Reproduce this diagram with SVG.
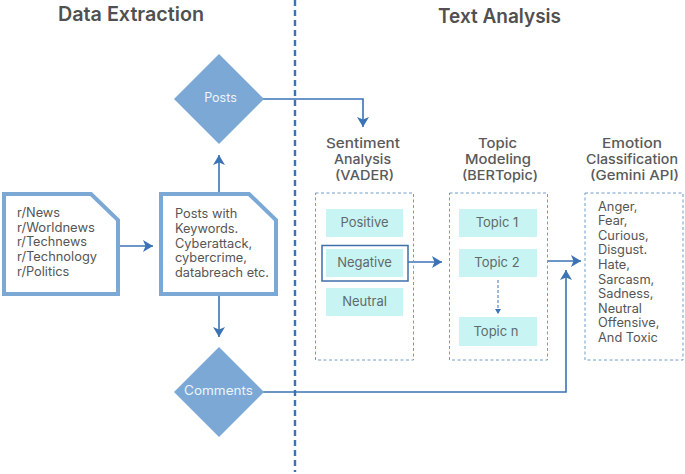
<svg xmlns="http://www.w3.org/2000/svg" width="685" height="474" viewBox="0 0 685 474">
<style>
text{font-family:"Inter","Liberation Sans",sans-serif;fill:#555}
.h{font-size:19.500px;font-weight:600;text-anchor:middle;fill:#505050}
.s{font-size:13.200px;font-weight:500;text-anchor:middle;fill:#5a5a5a}
.t{font-size:12.800px}
.m{font-size:13px;text-anchor:middle;fill:#5f6a6a}
.w{font-size:12.500px;text-anchor:middle;fill:#eef4fa}
.doc{fill:#fff;stroke:#7ba8d4;stroke-width:4}
.dia{fill:#7ba8d4}
.dash{fill:none;stroke:#6f9cc8;stroke-width:1;stroke-dasharray:3 2.5}
.cell{fill:#c9f4f4}
.c{fill:none;stroke:#3b73b5;stroke-width:1.6}
</style>
<defs>
<marker id="a" markerUnits="userSpaceOnUse" markerWidth="12" markerHeight="12" refX="10" refY="6" orient="auto"><path d="M0 0L10 6L0 12L2.500 6Z" fill="#3b73b5"/></marker>
<marker id="b" markerUnits="userSpaceOnUse" markerWidth="6" markerHeight="6" refX="5" refY="3" orient="auto"><path d="M0 0L5 3L0 6Z" fill="#3b73b5"/></marker>
</defs>
<g id="titles">
<text class="h" x="131" y="21" textLength="146" lengthAdjust="spacingAndGlyphs">Data Extraction</text>
<text class="h" x="499.500" y="23" textLength="123" lengthAdjust="spacingAndGlyphs">Text Analysis</text>
</g>
<g id="divider"><path d="M295 0V472" fill="none" stroke="#3b73b5" stroke-width="2.400" stroke-dasharray="6 4"/></g>
<g id="connectors">
<path class="c" marker-end="url(#a)" d="M120 246H153"/>
<path class="c" marker-end="url(#a)" d="M219 192V155"/>
<path class="c" marker-end="url(#a)" d="M219 296V337"/>
<path class="c" marker-end="url(#a)" d="M263 99H363V127"/>
<path class="c" marker-end="url(#a)" d="M263 392H566V270"/>
<path class="c" marker-end="url(#a)" d="M408 262H442"/>
<path class="c" marker-end="url(#a)" d="M547 261H581"/>
<path class="c" style="stroke-width:1;stroke-dasharray:3 2" marker-end="url(#b)" d="M498 280V314"/>
</g>
<g id="subreddits">
<path class="doc" d="M4 194H91L118 220V294H4Z"/>
<text class="t" x="17" y="217">r/News</text>
<text class="t" x="17" y="232" textLength="78" lengthAdjust="spacingAndGlyphs">r/Worldnews</text>
<text class="t" x="17" y="246" textLength="70" lengthAdjust="spacingAndGlyphs">r/Technews</text>
<text class="t" x="17" y="261" textLength="80" lengthAdjust="spacingAndGlyphs">r/Technology</text>
<text class="t" x="17" y="276">r/Politics</text>
</g>
<g id="keywords">
<path class="doc" d="M161 194H249L276 220V294H161Z"/>
<text class="t" x="175" y="218">Posts with</text>
<text class="t" x="175" y="233">Keywords.</text>
<text class="t" x="175" y="248">Cyberattack,</text>
<text class="t" x="175" y="262">cybercrime,</text>
<text class="t" x="175" y="277" textLength="94" lengthAdjust="spacingAndGlyphs">databreach etc.</text>
</g>
<g id="posts">
<path class="dia" d="M219 54L264 99L219 144L174 99Z"/>
<text class="w" x="220.500" y="102">Posts</text>
</g>
<g id="comments">
<path class="dia" d="M219 347L264 392L219 437L174 392Z"/>
<text class="w" x="218.500" y="395" textLength="69" lengthAdjust="spacingAndGlyphs">Comments</text>
</g>
<g id="sentiment">
<text class="s" x="363" y="148" textLength="74" lengthAdjust="spacingAndGlyphs">Sentiment</text>
<text class="s" x="362.500" y="164" textLength="57" lengthAdjust="spacingAndGlyphs">Analysis</text>
<text class="s" x="364.500" y="180" textLength="59" lengthAdjust="spacingAndGlyphs">(VADER)</text>
<rect class="dash" x="315.500" y="193" width="98" height="167"/>
<rect class="cell" x="326" y="209" width="77" height="28"/>
<text class="m" x="364.500" y="227">Positive</text>
<rect class="cell" x="326" y="249" width="77" height="28"/>
<rect x="322" y="245.500" width="86" height="35.500" fill="none" stroke="#3f6fa8" stroke-width="1.500"/>
<text class="m" x="364.500" y="267">Negative</text>
<rect class="cell" x="326" y="288" width="77" height="28"/>
<text class="m" x="364.500" y="306">Neutral</text>
</g>
<g id="topic">
<text class="s" x="497.500" y="148" textLength="39" lengthAdjust="spacingAndGlyphs">Topic</text>
<text class="s" x="498" y="164" textLength="66" lengthAdjust="spacingAndGlyphs">Modeling</text>
<text class="s" x="500" y="180" textLength="76" lengthAdjust="spacingAndGlyphs">(BERTopic)</text>
<rect class="dash" x="449.500" y="193" width="98" height="167"/>
<rect class="cell" x="459" y="209" width="78" height="28"/>
<text class="m" x="497" y="227">Topic 1</text>
<rect class="cell" x="459" y="249" width="78" height="28"/>
<text class="m" x="497" y="267">Topic 2</text>
<rect class="cell" x="459" y="317" width="78" height="29"/>
<text class="m" x="496" y="336">Topic n</text>
</g>
<g id="emotion">
<text class="s" x="632" y="148" textLength="60" lengthAdjust="spacingAndGlyphs">Emotion</text>
<text class="s" x="632" y="164" textLength="92" lengthAdjust="spacingAndGlyphs">Classification</text>
<text class="s" x="634.500" y="180" textLength="89" lengthAdjust="spacingAndGlyphs">(Gemini API)</text>
<rect class="dash" x="585" y="193" width="98" height="167"/>
<text class="t" x="598" y="211">Anger,</text>
<text class="t" x="598" y="225">Fear,</text>
<text class="t" x="598" y="240">Curious,</text>
<text class="t" x="598" y="254">Disgust.</text>
<text class="t" x="598" y="269">Hate,</text>
<text class="t" x="598" y="284">Sarcasm,</text>
<text class="t" x="598" y="298">Sadness,</text>
<text class="t" x="598" y="313">Neutral</text>
<text class="t" x="598" y="327">Offensive,</text>
<text class="t" x="598" y="342">And Toxic</text>
</g>
</svg>
